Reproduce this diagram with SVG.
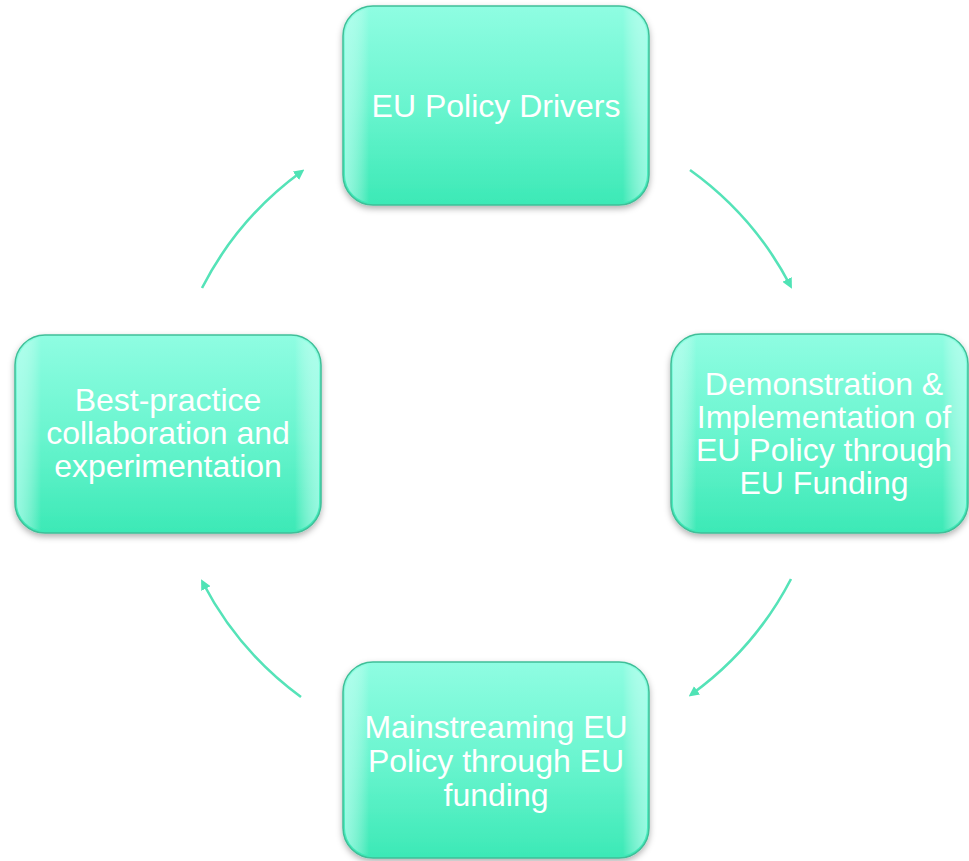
<svg xmlns="http://www.w3.org/2000/svg" width="969" height="861" viewBox="0 0 969 861">
<defs>
<linearGradient id="fill" x1="0" y1="0" x2="0" y2="1">
<stop offset="0" stop-color="#8ffde2"/>
<stop offset="0.5" stop-color="#6af5cf"/>
<stop offset="1" stop-color="#3ce9b6"/>
</linearGradient>
<linearGradient id="edge" x1="0" y1="0" x2="1" y2="0">
<stop offset="0" stop-color="#b8fff0" stop-opacity="0.7"/>
<stop offset="0.08" stop-color="#ffffff" stop-opacity="0"/>
<stop offset="0.92" stop-color="#ffffff" stop-opacity="0"/>
<stop offset="1" stop-color="#b8fff0" stop-opacity="0.7"/>
</linearGradient>
<filter id="sh" x="-10%" y="-10%" width="120%" height="125%">
<feDropShadow dx="0" dy="3" stdDeviation="3" flood-color="#000" flood-opacity="0.3"/>
</filter>
<marker id="ah" viewBox="0 0 10 10" refX="6" refY="5" markerWidth="4" markerHeight="4" orient="auto" markerUnits="strokeWidth">
<path d="M0,0 L10,5 L0,10 z" fill="#4fe3b5"/>
</marker>
</defs>
<style>
.box{fill:url(#fill);stroke:#3fbf98;stroke-width:1.5;filter:url(#sh)}
.hl{fill:url(#edge);stroke:none}
.lbl{font-family:"Liberation Sans",Arial,sans-serif;font-size:32px;fill:#ffffff;text-anchor:middle}
.conn{fill:none;stroke:#55e3b8;stroke-width:2.6}
</style>
<rect width="969" height="861" fill="#ffffff"/>
<g id="connectors">
<path class="conn" d="M690,170 A330,330 0 0 1 790,285" marker-end="url(#ah)"/>
<path class="conn" d="M791,579 A330,330 0 0 1 692,694" marker-end="url(#ah)"/>
<path class="conn" d="M301,697 A330,330 0 0 1 203,583" marker-end="url(#ah)"/>
<path class="conn" d="M202,288 A330,330 0 0 1 301,172" marker-end="url(#ah)"/>
</g>
<g id="n1">
<rect class="box" x="343" y="6" width="306" height="199" rx="30"/>
<rect class="hl" x="345" y="8" width="302" height="195" rx="28"/>
<text class="lbl" x="496" y="117">EU Policy Drivers</text>
</g>
<g id="n2">
<rect class="box" x="671" y="334" width="297" height="199" rx="30"/>
<rect class="hl" x="673" y="336" width="293" height="195" rx="28"/>
<text class="lbl" x="824" y="395">Demonstration &amp;</text>
<text class="lbl" x="824" y="428">Implementation of</text>
<text class="lbl" x="824" y="461">EU Policy through</text>
<text class="lbl" x="824" y="494">EU Funding</text>
</g>
<g id="n3">
<rect class="box" x="343" y="662" width="306" height="196" rx="30"/>
<rect class="hl" x="345" y="664" width="302" height="192" rx="28"/>
<text class="lbl" x="496" y="738">Mainstreaming EU</text>
<text class="lbl" x="496" y="772">Policy through EU</text>
<text class="lbl" x="496" y="806">funding</text>
</g>
<g id="n4">
<rect class="box" x="15" y="335" width="306" height="198" rx="30"/>
<rect class="hl" x="17" y="337" width="302" height="194" rx="28"/>
<text class="lbl" x="168" y="411">Best-practice</text>
<text class="lbl" x="168" y="444">collaboration and</text>
<text class="lbl" x="168" y="477">experimentation</text>
</g>
</svg>
